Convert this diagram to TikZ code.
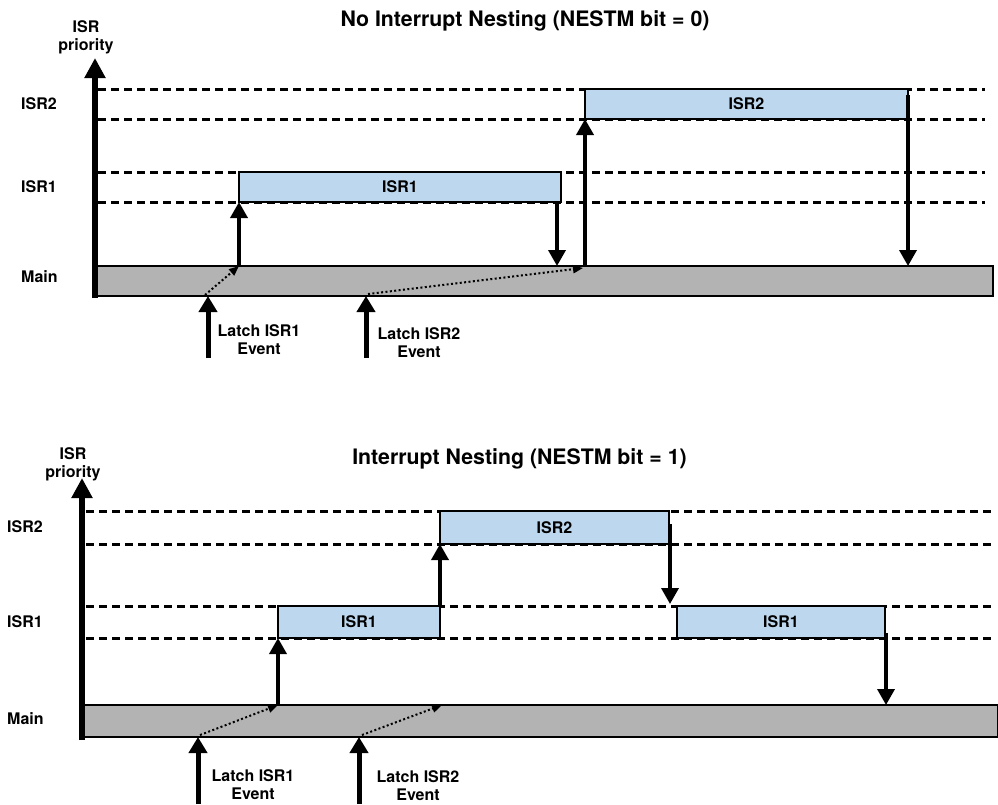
\documentclass[tikz,border=0pt]{standalone}
\usepackage{fontspec}
\setmainfont{TeX Gyre Heros}
\usetikzlibrary{arrows.meta}
\definecolor{isrblue}{HTML}{BDD7EE}
\definecolor{maingray}{HTML}{B3B3B3}
\begin{document}
\begin{tikzpicture}[x=1pt,y=-1pt,
  lbl/.style={font=\fontsize{16}{18}\selectfont\bfseries, inner sep=0pt, align=center},
  ttl/.style={font=\fontsize{21.3}{25}\selectfont\bfseries, inner sep=0pt},
  isrbox/.style={draw=black, line width=1.4pt, fill=isrblue, inner sep=0pt, outer sep=0pt, font=\fontsize{16}{18}\selectfont\bfseries},
  mainbar/.style={draw=black, line width=1.8pt, fill=maingray, inner sep=0pt, outer sep=0pt},
  level/.style={line width=3pt, dash pattern=on 8pt off 5pt},
  axisarrow/.style={line width=6.5pt, -{Triangle[length=20pt,width=20pt]}},
  flow/.style={line width=3.6pt, -{Triangle[length=16pt,width=17pt]}},
  latch/.style={line width=5pt, -{Triangle[length=16pt,width=18pt]}},
  pend/.style={line width=2pt, dash pattern=on 2pt off 2.4pt, -{Triangle[length=10pt,width=8pt]}},
]
\useasboundingbox (0,0) rectangle (998,804);

% ================= TOP DIAGRAM =================
\node[ttl] (ttitle) at (525,21) {No Interrupt Nesting (NESTM bit = 0)};
\node[lbl] (tprio) at (86,37) {ISR\\priority};
\node[lbl, anchor=west] (tlisr2) at (21,104) {ISR2};
\node[lbl, anchor=west] (tlisr1) at (21,187) {ISR1};
\node[lbl, anchor=west] (tlmain) at (21,277) {Main};

% dashed priority levels
\coordinate (ta1) at (98,89);  \coordinate (tb1) at (985,89);
\coordinate (ta2) at (98,119); \coordinate (tb2) at (985,119);
\coordinate (ta3) at (98,172); \coordinate (tb3) at (985,172);
\coordinate (ta4) at (98,202); \coordinate (tb4) at (985,202);
\draw[level] (ta1) -- (tb1);
\draw[level] (ta2) -- (tb2);
\draw[level] (ta3) -- (tb3);
\draw[level] (ta4) -- (tb4);

\node[mainbar, minimum width=896pt, minimum height=30pt] (tmain) at (545,281) {};
\node[isrbox, minimum width=322pt, minimum height=30pt] (t1) at (400,187) {ISR1};
\node[isrbox, minimum width=323pt, minimum height=30pt] (t2) at (746.5,104) {ISR2};

% axis
\coordinate (taxb) at (95,298);
\coordinate (taxt) at (95,58);
\draw[axisarrow] (taxb) -- (taxt);

% transitions
\coordinate (t1d) at ([xshift=-4pt]t1.south east);
\coordinate (t2d) at ([yshift=-6pt]t2.north east);
\draw[flow] (tmain.north -| t1.south west) -- (t1.south west);
\draw[flow] (t1d) -- (tmain.north -| t1d);
\draw[flow] (tmain.north -| t2.south west) -- (t2.south west);
\draw[flow] (t2d) -- (tmain.north -| t2d);

% latch events
\coordinate (tl1) at (208,358);
\coordinate (tl2) at (366,358);
\coordinate (tl1e) at (tl1 |- tmain.south);
\coordinate (tl2e) at (tl2 |- tmain.south);
\coordinate (tp2e) at ([xshift=-2pt,yshift=-2pt]tmain.north -| t2.south west);
\draw[latch] (tl1) -- (tl1e);
\draw[latch] (tl2) -- (tl2e);
\draw[pend] ([xshift=-3pt,yshift=1pt]tl1e) -- (tmain.north -| t1.south west);
\draw[pend] ([xshift=2pt,yshift=2pt]tl2e) -- (tp2e);
\node[lbl] (tlat1) at (259,340) {Latch ISR1\\Event};
\node[lbl] (tlat2) at (419,343) {Latch ISR2\\Event};

% ================= BOTTOM DIAGRAM =================
\node[ttl] (btitle) at (519.5,459) {Interrupt Nesting (NESTM bit = 1)};
\node[lbl] (bprio) at (73,464) {ISR\\priority};
\node[lbl, anchor=west] (blisr2) at (7,527) {ISR2};
\node[lbl, anchor=west] (blisr1) at (7,622) {ISR1};
\node[lbl, anchor=west] (blmain) at (7,719) {Main};

\coordinate (ba1) at (86,511);  \coordinate (bb1) at (992,511);
\coordinate (ba2) at (86,544);  \coordinate (bb2) at (992,544);
\coordinate (ba3) at (86,606);  \coordinate (bb3) at (992,606);
\coordinate (ba4) at (86,638);  \coordinate (bb4) at (992,638);
\draw[level] (ba1) -- (bb1);
\draw[level] (ba2) -- (bb2);
\draw[level] (ba3) -- (bb3);
\draw[level] (ba4) -- (bb4);

\node[mainbar, minimum width=913pt, minimum height=32pt] (bmain) at (541,721) {};
\node[isrbox, minimum width=162pt, minimum height=32pt] (b1) at (359,622) {ISR1};
\node[isrbox, minimum width=229pt, minimum height=33pt] (b2) at (554.5,527.5) {ISR2};
\node[isrbox, minimum width=208pt, minimum height=32pt] (b3) at (781,622) {ISR1};

\coordinate (baxb) at (82,740);
\coordinate (baxt) at (82,478);
\draw[axisarrow] (baxb) -- (baxt);

\coordinate (b2d) at ([xshift=1pt,yshift=-13pt]b2.north east);
\coordinate (b2t) at ([yshift=2pt]b2d |- b3.north);
\coordinate (b3d) at ([xshift=1pt,yshift=5pt]b3.south east);
\draw[flow] (bmain.north -| b1.south west) -- (b1.south west);
\draw[flow] (b1.north east) -- (b1.north east |- b2.south);
\draw[flow] (b2d) -- (b2t);
\draw[flow] (b3d) -- (bmain.north -| b3d);

\coordinate (bl1) at (198,804);
\coordinate (bl2) at (359,804);
\coordinate (bl1e) at (bl1 |- bmain.south);
\coordinate (bl2e) at (bl2 |- bmain.south);
\coordinate (bp2e) at ([xshift=2pt]bmain.north -| b2.south west);
\draw[latch] (bl1) -- (bl1e);
\draw[latch] (bl2) -- (bl2e);
\draw[pend] ([xshift=2pt,yshift=2pt]bl1e) -- (bmain.north -| b1.south west);
\draw[pend] ([xshift=3pt,yshift=2pt]bl2e) -- (bp2e);
\node[lbl] (blat1) at (253,785) {Latch ISR1\\Event};
\node[lbl] (blat2) at (418,786) {Latch ISR2\\Event};
\end{tikzpicture}
\end{document}
